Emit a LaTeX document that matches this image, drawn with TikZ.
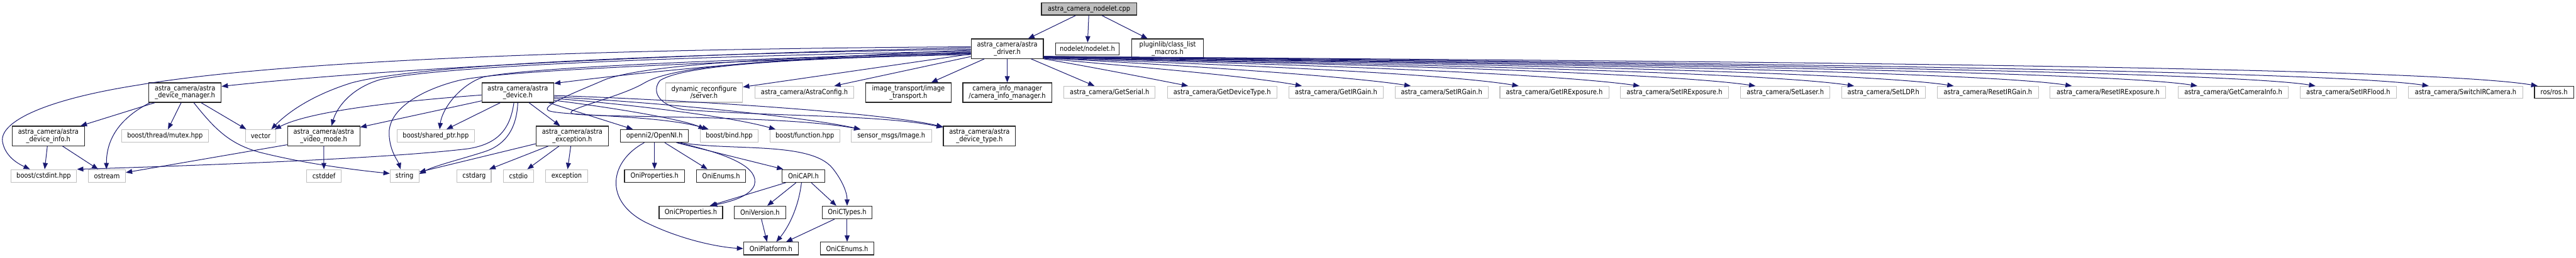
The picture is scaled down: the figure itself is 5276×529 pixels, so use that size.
\documentclass[tikz,border=0pt]{standalone}
\usepackage{fontspec}
\setmainfont{DejaVu Sans}[FakeStretch=0.88]
\usetikzlibrary{arrows.meta}
\definecolor{edgec}{HTML}{191970}
\definecolor{grayb}{HTML}{BFBFBF}
\tikzset{
  gn/.style={draw=grayb, line width=1.4pt, fill=white, inner sep=0pt, align=center, font=\fontsize{14.5}{14.5}\selectfont},
  bn/.style={draw=black!85, line width=1.6pt, fill=white, inner sep=0pt, align=center, font=\fontsize{14.5}{14.5}\selectfont},
  mn/.style={bn, fill=grayb},
  edge/.style={draw=edgec, line width=1.3pt, -{Triangle[length=13pt,width=10pt]}},
}
\newcommand\nb[7]{\node[#6, minimum width={#3pt-#2pt}, minimum height={#5pt-#4pt}] (#1) at ({(#2+#3)/2},{(#4+#5)/2}) {#7};}
\begin{document}
\begin{tikzpicture}[x=1pt,y=-1pt]
\useasboundingbox (0,0) rectangle (5276,529);
% ---- nodes ----
\nb{main}{2133}{2328}{6}{31}{mn}{astra\_camera\_nodelet.cpp}
\nb{driver}{1989}{2137}{80}{120}{bn}{astra\_camera/astra\\\_driver.h}
\nb{nodelet}{2162}{2292}{88}{113}{bn}{nodelet/nodelet.h}
\nb{pluginlib}{2318}{2465}{80}{120}{bn}{pluginlib/class\_list\\\_macros.h}
\nb{devmgr}{305}{453}{170}{210}{bn}{astra\_camera/astra\\\_device\_manager.h}
\nb{device}{987}{1134}{170}{210}{bn}{astra\_camera/astra\\\_device.h}
\nb{dynrec}{1363}{1521}{170}{210}{gn}{dynamic\_reconfigure\\/server.h}
\nb{astraconfig}{1546}{1749}{177}{202}{gn}{astra\_camera/AstraConfig.h}
\nb{imgtrans}{1773}{1948}{170}{210}{bn}{image\_transport/image\\\_transport.h}
\nb{caminfo}{1972}{2154}{170}{210}{bn}{camera\_info\_manager\\/camera\_info\_manager.h}
\nb{getserial}{2179}{2366}{177}{202}{gn}{astra\_camera/GetSerial.h}
\nb{getdevtype}{2391}{2615}{177}{202}{gn}{astra\_camera/GetDeviceType.h}
\nb{getirgain}{2640}{2833}{177}{202}{gn}{astra\_camera/GetIRGain.h}
\nb{setirgain}{2857}{3048}{177}{202}{gn}{astra\_camera/SetIRGain.h}
\nb{getirexp}{3072}{3295}{177}{202}{gn}{astra\_camera/GetIRExposure.h}
\nb{setirexp}{3319}{3540}{177}{202}{gn}{astra\_camera/SetIRExposure.h}
\nb{setlaser}{3565}{3748}{177}{202}{gn}{astra\_camera/SetLaser.h}
\nb{setldp}{3772}{3943}{177}{202}{gn}{astra\_camera/SetLDP.h}
\nb{resetirgain}{3968}{4175}{177}{202}{gn}{astra\_camera/ResetIRGain.h}
\nb{resetirexp}{4199}{4436}{177}{202}{gn}{astra\_camera/ResetIRExposure.h}
\nb{getcaminfo}{4461}{4687}{177}{202}{gn}{astra\_camera/GetCameraInfo.h}
\nb{setirflood}{4711}{4908}{177}{202}{gn}{astra\_camera/SetIRFlood.h}
\nb{switchir}{4933}{5167}{177}{202}{gn}{astra\_camera/SwitchIRCamera.h}
\nb{ros}{5191}{5271}{177}{202}{bn}{ros/ros.h}
\nb{devinfo}{25}{173}{259}{299}{bn}{astra\_camera/astra\\\_device\_info.h}
\nb{mutex}{249}{427}{266}{292}{gn}{boost/thread/mutex.hpp}
\nb{vector}{503}{565}{266}{292}{gn}{vector}
\nb{videomode}{589}{737}{259}{299}{bn}{astra\_camera/astra\\\_video\_mode.h}
\nb{sharedptr}{813}{972}{266}{292}{gn}{boost/shared\_ptr.hpp}
\nb{exch}{1098}{1246}{259}{299}{bn}{astra\_camera/astra\\\_exception.h}
\nb{openni}{1271}{1410}{266}{292}{bn}{openni2/OpenNI.h}
\nb{bind}{1434}{1553}{266}{292}{gn}{boost/bind.hpp}
\nb{function}{1577}{1720}{266}{292}{gn}{boost/function.hpp}
\nb{image}{1743}{1908}{266}{292}{gn}{sensor\_msgs/Image.h}
\nb{devtype}{1932}{2080}{259}{299}{bn}{astra\_camera/astra\\\_device\_type.h}
\nb{cstdint}{22}{157}{348}{374}{gn}{boost/cstdint.hpp}
\nb{ostream}{181}{257}{348}{374}{gn}{ostream}
\nb{cstddef}{628}{699}{348}{374}{gn}{cstddef}
\nb{string}{799}{858}{348}{374}{gn}{string}
\nb{cstdarg}{936}{1006}{348}{374}{gn}{cstdarg}
\nb{cstdio}{1031}{1093}{348}{374}{gn}{cstdio}
\nb{exception}{1117}{1204}{348}{374}{gn}{exception}
\nb{oniprop}{1279}{1402}{348}{374}{bn}{OniProperties.h}
\nb{onienums}{1427}{1527}{348}{374}{bn}{OniEnums.h}
\nb{onicapi}{1602}{1689}{348}{374}{bn}{OniCAPI.h}
\nb{onicprop}{1350}{1480}{423}{449}{bn}{OniCProperties.h}
\nb{oniversion}{1504}{1609}{423}{449}{bn}{OniVersion.h}
\nb{onictypes}{1684}{1786}{423}{449}{bn}{OniCTypes.h}
\nb{oniplat}{1523}{1635}{497}{523}{bn}{OniPlatform.h}
\nb{onicenums}{1680}{1790}{497}{523}{bn}{OniCEnums.h}
% ---- main ----
\draw[edge] (main) -- (driver);
\draw[edge] (main) -- (nodelet);
\draw[edge] (main) -- (pluginlib);
% ---- driver, straight ----
\draw[edge] (driver) -- (dynrec);
\draw[edge] (driver) -- (astraconfig);
\draw[edge] (driver) -- (imgtrans);
\draw[edge] (driver) -- (caminfo);
\draw[edge] (driver) -- (getserial);
% ---- driver, left bundle ----
\draw[edge] ([yshift=-3pt]driver.west) .. controls (1600,118) and (1300,150) .. ([yshift=-2pt]device.north east);
\draw[edge] ([yshift=2pt]driver.west) .. controls (1400,110) and (800,140) .. ([yshift=-8pt]devmgr.north east);
\draw[edge] ([yshift=4pt]driver.west) .. controls (1300,100) and (600,120) .. (280,175) .. controls (90,205) and (0,250) .. (5,290) .. controls (10,320) and (35,335) .. ([xshift=40pt]cstdint.north west);
\draw[edge] ([yshift=-1pt]driver.west) .. controls (1300,112) and (850,135) .. (720,170) .. controls (640,195) and (590,230) .. ([xshift=-10pt]vector.north east);
\draw[edge] ([yshift=-5pt]driver.west) .. controls (1300,118) and (900,138) .. (780,163) .. controls (720,180) and (690,220) .. ([xshift=16pt]videomode.north);
\draw[edge] ([yshift=-7pt]driver.west) .. controls (1400,125) and (1080,140) .. (990,158) .. controls (940,175) and (905,225) .. ([xshift=8pt]sharedptr.north);
\draw[edge] ([yshift=-9pt]driver.west) .. controls (1400,130) and (1030,145) .. (940,165) .. controls (860,185) and (795,225) .. (797,275) .. controls (798,310) and (815,330) .. ([xshift=-8pt]string.north);
% loops
\draw[edge] ([yshift=-8pt]driver.west) .. controls (1550,118) and (1320,135) .. (1240,163) .. controls (1190,185) and (1110,215) .. (1122,226) .. controls (1135,238) and (1350,235) .. ([xshift=18pt]bind.north west);
\draw[edge] ([yshift=-10pt]driver.west) .. controls (1580,120) and (1380,135) .. (1320,170) .. controls (1270,200) and (1150,225) .. (1172,233) .. controls (1195,242) and (1600,235) .. ([xshift=20pt]image.north west);
\draw[edge] ([yshift=-12pt]driver.west) .. controls (1600,120) and (1400,135) .. (1352,165) .. controls (1335,185) and (1345,215) .. (1400,225) .. controls (1600,240) and (1800,235) .. ([yshift=-3pt]devtype.north west);
% ---- driver, right bundle ----
\draw[edge] (driver.south east) .. controls (2250,140) and (2350,160) .. ([xshift=43pt]getdevtype.north west);
\draw[edge] ([yshift=1pt]driver.south east) .. controls (2300,135) and (2550,155) .. ([xshift=27pt]getirgain.north west);
\draw[edge] ([yshift=2pt]driver.south east) .. controls (2400,133) and (2750,155) .. ([xshift=33pt]setirgain.north west);
\draw[edge] ([yshift=2pt]driver.south east) .. controls (2500,132) and (2950,150) .. ([xshift=39pt]getirexp.north west);
\draw[edge] ([yshift=3pt]driver.south east) .. controls (2600,131) and (3150,148) .. ([xshift=40pt]setirexp.north west);
\draw[edge] ([yshift=3pt]driver.south east) .. controls (2700,130) and (3400,148) .. ([xshift=31pt]setlaser.north west);
\draw[edge] ([yshift=3pt]driver.south east) .. controls (2800,130) and (3600,147) .. ([xshift=26pt]setldp.north west);
\draw[edge] ([yshift=4pt]driver.south east) .. controls (2900,129) and (3800,146) .. ([xshift=34pt]resetirgain.north west);
\draw[edge] ([yshift=4pt]driver.south east) .. controls (3000,128) and (4050,146) .. ([xshift=45pt]resetirexp.north west);
\draw[edge] ([yshift=4pt]driver.south east) .. controls (3100,128) and (4300,145) .. ([xshift=40pt]getcaminfo.north west);
\draw[edge] ([yshift=5pt]driver.south east) .. controls (3200,127) and (4550,145) .. ([xshift=32pt]setirflood.north west);
\draw[edge] ([yshift=5pt]driver.south east) .. controls (3300,126) and (4750,143) .. ([xshift=42pt]switchir.north west);
\draw[edge] ([yshift=5pt]driver.south east) .. controls (3400,125) and (4950,135) .. ([xshift=7pt]ros.north west);
% ---- device ----
\draw[edge] ([yshift=-16pt]device.east) .. controls (1250,220) and (1400,245) .. ([xshift=10pt]bind.north west);
\draw[edge] ([yshift=-12pt]device.east) .. controls (1300,215) and (1500,240) .. ([xshift=12pt]function.north west);
\draw[edge] ([yshift=-9pt]device.east) .. controls (1350,210) and (1650,240) .. ([xshift=20pt]image.north west);
\draw[edge] ([yshift=-6pt]device.east) .. controls (1400,205) and (1800,230) .. ([yshift=-2pt]devtype.north west);
\draw[edge] ([xshift=-11pt]device.south east) -- ([xshift=26pt]openni.north west);
\draw[edge] ([xshift=23pt]device.south) -- ([xshift=-25pt]exch.north);
\draw[edge] ([xshift=-36pt]device.south) -- ([xshift=22pt]sharedptr.north);
\draw[edge] (device.south) .. controls (1058,270) and (1030,300) .. (990,312) .. controls (940,328) and (890,340) .. ([yshift=4pt]string.east);
\draw[edge] ([xshift=-8pt]device.south) .. controls (1045,265) and (1020,295) .. (960,305) .. controls (800,325) and (400,340) .. (cstdint.north east);
\draw[edge] ([yshift=-5pt]device.west) .. controls (850,205) and (640,225) .. ([xshift=-3pt]vector.north east);
\draw[edge] ([yshift=-17pt]device.west) -- ([yshift=18pt]videomode.east);
% ---- device manager ----
\draw[edge] ([xshift=-62pt]devmgr.south) -- ([xshift=66pt]devinfo.north);
\draw[edge] ([xshift=-72pt]devmgr.south) .. controls (240,245) and (218,290) .. ([xshift=-1pt]ostream.north);
\draw[edge] ([xshift=-8pt]devmgr.south) -- ([xshift=6pt]mutex.north);
\draw[edge] ([xshift=33pt]devmgr.south) -- ([xshift=2pt]vector.north west);
\draw[edge] ([xshift=18pt]devmgr.south) .. controls (440,265) and (470,295) .. (530,312) .. controls (620,335) and (720,348) .. ([yshift=5pt]string.west);
% ---- device info, video mode ----
\draw[edge] ([xshift=-2pt]devinfo.south) -- ([xshift=2pt]cstdint.north);
\draw[edge] ([xshift=29pt]devinfo.south) -- ([xshift=-18pt]ostream.north);
\draw[edge] ([yshift=-18pt]videomode.west) -- ([yshift=7pt]ostream.east);
\draw[edge] (videomode) -- (cstddef);
% ---- exception ----
\draw[edge] ([yshift=-16pt]exch.west) -- ([yshift=8pt]string.east);
\draw[edge] ([xshift=-49pt]exch.south) -- ([xshift=31pt]cstdarg.north);
\draw[edge] ([xshift=-27pt]exch.south) -- ([xshift=18pt]cstdio.north);
\draw[edge] ([xshift=-3pt]exch.south) -- ([xshift=2pt]exception.north);
% ---- OpenNI ----
\draw[edge] (openni) -- (oniprop);
\draw[edge] ([xshift=21pt]openni.south) -- ([xshift=-28pt]onienums.north);
\draw[edge] ([xshift=45pt]openni.south) -- ([xshift=3pt]onicapi.north west);
\draw[edge] ([xshift=48pt]openni.south) .. controls (1500,318) and (1555,345) .. (1545,380) .. controls (1535,405) and (1490,415) .. ([xshift=-25pt]onicprop.north east);
\draw[edge] ([xshift=53pt]openni.south) .. controls (1500,310) and (1660,290) .. (1705,345) .. controls (1725,370) and (1735,395) .. (onictypes.north);
\draw[edge] ([xshift=-21pt]openni.south) .. controls (1250,330) and (1235,410) .. (1320,455) .. controls (1400,495) and (1480,508) .. (oniplat.west);
% ---- OniCAPI etc ----
\draw[edge] ([xshift=-36pt]onicapi.south) -- ([xshift=-27pt]onicprop.north east);
\draw[edge] ([xshift=-15pt]onicapi.south) -- ([xshift=15pt]oniversion.north);
\draw[edge] ([xshift=-4pt]onicapi.south) .. controls (1635,430) and (1612,470) .. ([xshift=11pt]oniplat.north);
\draw[edge] ([xshift=16pt]onicapi.south) -- ([xshift=-22pt]onictypes.north);
\draw[edge] ([xshift=3pt]oniversion.south) -- ([xshift=-8pt]oniplat.north);
\draw[edge] ([xshift=-26pt]onictypes.south) -- ([xshift=31pt]oniplat.north);
\draw[edge] (onictypes) -- (onicenums);
\end{tikzpicture}
\end{document}
